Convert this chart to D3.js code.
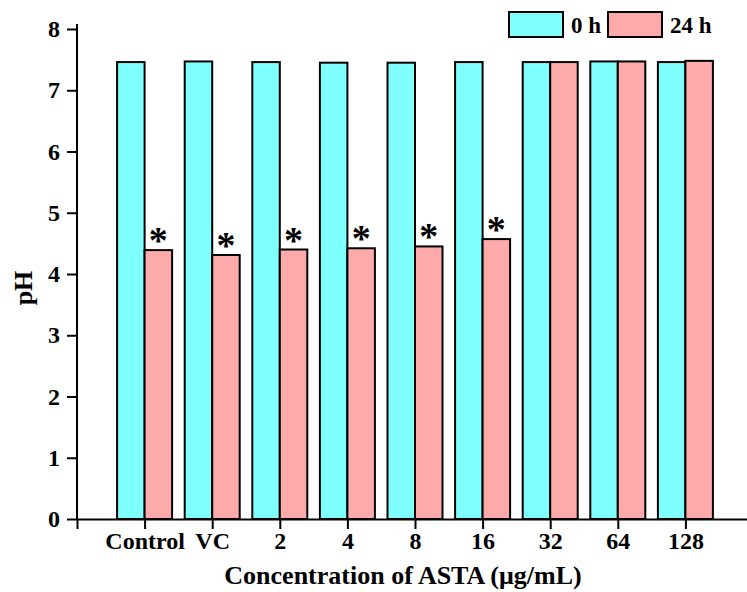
<!DOCTYPE html>
<html>
<head>
<meta charset="utf-8">
<script src="https://cdn.jsdelivr.net/npm/d3@7"></script>
<style>
  body { margin: 0; background: #fff; }
  text { font-family: "Liberation Serif", "Times New Roman", serif; font-weight: bold; }
</style>
</head>
<body>
<div id="app"></div>
<script>
const categories = ['Control', 'VC', '2', '4', '8', '16', '32', '64', '128'];
const ph0h = [7.46, 7.47, 7.46, 7.45, 7.45, 7.46, 7.46, 7.47, 7.46];
const ph24h = [4.39, 4.31, 4.40, 4.42, 4.45, 4.57, 7.46, 7.47, 7.48];
const significant = [true, true, true, true, true, true, false, false, false];
const yTicks = [0, 1, 2, 3, 4, 5, 6, 7, 8];
const seriesNames = ['0 h', '24 h'];
const colors = ['#80ffff', '#ffaaaa'];

const width = 747;
const height = 592;
const margin = { top: 29, bottom: 73, left: 77, right: 0 };
const barWidth = 27.5;

const svg = d3.select('#app')
  .append('svg')
  .attr('width', width)
  .attr('height', height);

// scales: index -1 is the axis origin
const x = d3.scaleLinear()
  .domain([-1, 9])
  .range([margin.left, 753]);

const y = d3.scaleLinear()
  .domain([0, 8])
  .range([height - margin.bottom, margin.top]);

// bars
const groups = svg.selectAll('g.grp')
  .data(categories)
  .enter()
  .append('g')
  .attr('class', 'grp');

groups.append('rect')
  .attr('x', (d, i) => x(i) - barWidth)
  .attr('y', (d, i) => y(ph0h[i]))
  .attr('width', barWidth)
  .attr('height', (d, i) => y(0) - y(ph0h[i]))
  .attr('fill', colors[0])
  .attr('stroke', '#000')
  .attr('stroke-width', 2);

groups.append('rect')
  .attr('x', (d, i) => x(i))
  .attr('y', (d, i) => y(ph24h[i]))
  .attr('width', barWidth)
  .attr('height', (d, i) => y(0) - y(ph24h[i]))
  .attr('fill', colors[1])
  .attr('stroke', '#000')
  .attr('stroke-width', 2);

// asterisks
groups.filter((d, i) => significant[i])
  .append('text')
  .attr('x', d => x(categories.indexOf(d)) + barWidth / 2)
  .attr('y', d => y(ph24h[categories.indexOf(d)]) + 3)
  .attr('text-anchor', 'middle')
  .style('font-size', '38px')
  .text('*');

// axes
const xAxis = d3.axisBottom(x)
  .tickValues(d3.range(-1, 9))
  .tickFormat(i => i < 0 ? '' : categories[i])
  .tickSize(10)
  .tickPadding(3)
  .tickSizeOuter(0);

const yAxis = d3.axisLeft(y)
  .tickValues(yTicks)
  .tickFormat(d3.format('d'))
  .tickSize(10)
  .tickPadding(7)
  .tickSizeOuter(0);

const gx = svg.append('g')
  .attr('transform', `translate(0, ${y(0)})`)
  .call(xAxis);

const gy = svg.append('g')
  .attr('transform', `translate(${margin.left}, 0)`)
  .call(yAxis);

[gx, gy].forEach(g => {
  g.select('.domain').attr('stroke', '#000').attr('stroke-width', 2);
  g.selectAll('.tick line').attr('stroke', '#000').attr('stroke-width', 2);
  g.selectAll('.tick text')
    .attr('fill', '#000')
    .style('font-family', '"Liberation Serif", serif')
    .style('font-weight', 'bold')
    .style('font-size', '24px');
});
gy.select('.domain').attr('d', `M0,${y(0)}V${margin.top - 5}`);

// axis titles
svg.append('text')
  .attr('x', 403)
  .attr('y', 584)
  .attr('text-anchor', 'middle')
  .style('font-size', '26px')
  .text('Concentration of ASTA (μg/mL)');

svg.append('text')
  .attr('transform', `translate(32, 288) rotate(-90)`)
  .attr('text-anchor', 'middle')
  .style('font-size', '26px')
  .text('pH');

// legend
const legend = svg.append('g');
const legendX = [509, 608];
seriesNames.forEach((name, i) => {
  legend.append('rect')
    .attr('x', legendX[i])
    .attr('y', 12)
    .attr('width', 54)
    .attr('height', 25)
    .attr('fill', colors[i])
    .attr('stroke', '#000')
    .attr('stroke-width', 2);
  legend.append('text')
    .attr('x', legendX[i] + 62)
    .attr('y', 33)
    .style('font-size', '23px')
    .text(name);
});
</script>
</body>
</html>
